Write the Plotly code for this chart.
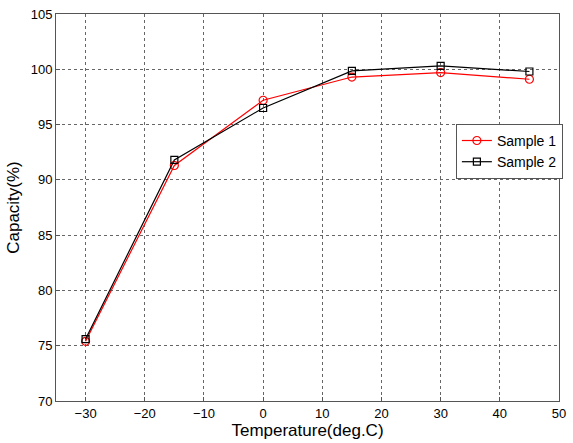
import plotly.graph_objects as go

temps = [-30, -15, 0, 15, 30, 45]
sample1 = [75.4, 91.3, 97.2, 99.3, 99.7, 99.1]
sample2 = [75.6, 91.8, 96.5, 99.85, 100.3, 99.8]
x_ticks = [-30, -20, -10, 0, 10, 20, 30, 40, 50]
y_ticks = [70, 75, 80, 85, 90, 95, 100, 105]

fig = go.Figure()
fig.add_trace(go.Scatter(x=temps, y=sample1, name="Sample 1", mode="lines+markers",
                         line=dict(color="#ff0000", width=1.2),
                         marker=dict(symbol="circle-open", size=8, color="#ff0000", line=dict(width=1.2))))
fig.add_trace(go.Scatter(x=temps, y=sample2, name="Sample 2", mode="lines+markers",
                         line=dict(color="#000000", width=1.2),
                         marker=dict(symbol="square-open", size=7, color="#000000", line=dict(width=1.2))))

axis_common = dict(showline=True, linecolor="#555555", linewidth=1, mirror=True,
                   showgrid=True, gridcolor="#666666", griddash="dot", gridwidth=1,
                   ticks="inside", ticklen=4, tickcolor="#555555", zeroline=False,
                   tickfont=dict(family="Arial, Liberation Sans", size=13, color="#000000"))

fig.update_xaxes(range=[-35, 50], tickvals=x_ticks,
                 title=dict(text="Temperature(deg.C)", font=dict(family="Arial, Liberation Sans", size=17, color="#000"), standoff=4),
                 **axis_common)
fig.update_yaxes(range=[70, 105], tickvals=y_ticks,
                 title=dict(text="Capacity(%)", font=dict(family="Arial, Liberation Sans", size=17, color="#000"), standoff=6),
                 **axis_common)

fig.update_layout(width=573, height=443, margin=dict(l=56, r=7, t=13, b=39),
                  paper_bgcolor="white", plot_bgcolor="white", showlegend=True,
                  legend=dict(x=0.795, y=0.716, xanchor="left", yanchor="top",
                              bgcolor="white", bordercolor="#555555", borderwidth=1,
                              font=dict(family="Arial, Liberation Sans", size=14, color="#000"),
                              tracegroupgap=0, itemwidth=30))

fig.write_html("out.html")
